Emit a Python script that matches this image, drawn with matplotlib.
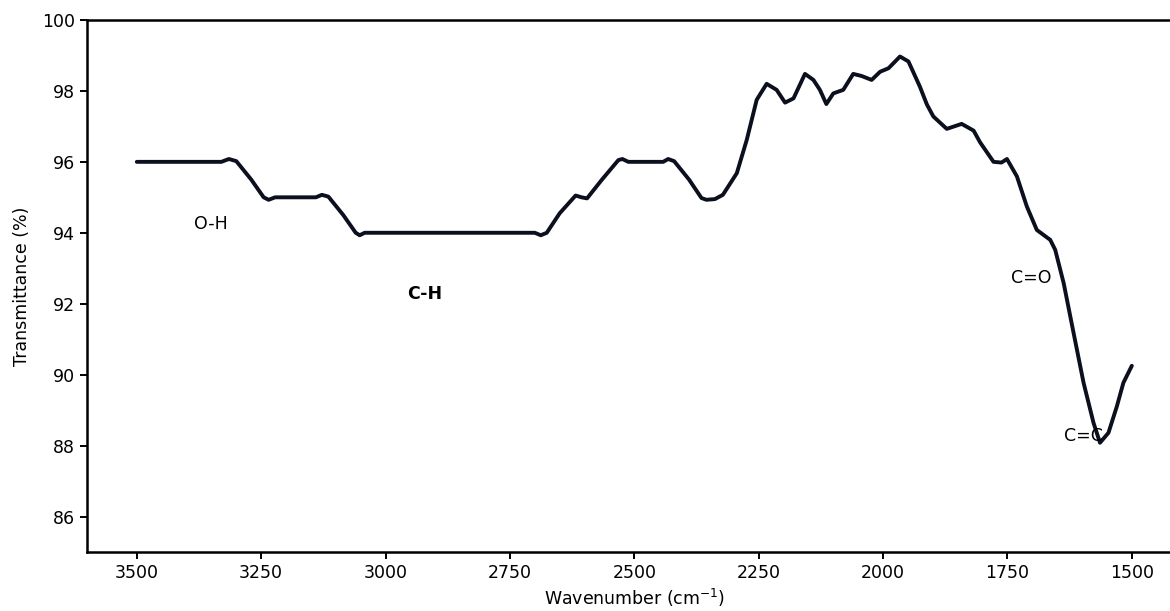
import matplotlib.pyplot as plt

# FTIR spectrum
wavenumber = [3500, 3330, 3315, 3300, 3270, 3245, 3235, 3222, 3140, 3128, 3115, 3085, 3060, 3052, 3042,
              2700, 2688, 2676, 2650, 2618, 2606, 2595, 2565, 2532, 2524, 2512, 2442, 2432, 2420, 2390,
              2365, 2355, 2338, 2322, 2294, 2274, 2254, 2234, 2214, 2197, 2180, 2157, 2140, 2127, 2114,
              2100, 2080, 2060, 2043, 2023, 2006, 1989, 1966, 1949, 1926, 1912, 1899, 1872, 1842, 1818, 1805,
              1778, 1762, 1751, 1731, 1711, 1691, 1664, 1654, 1637, 1617, 1597, 1577, 1564, 1547, 1530,
              1517, 1500]
transmittance = [96.0, 96.0, 96.08, 96.02, 95.5, 95.0, 94.93, 95.0, 95.0, 95.07, 95.02, 94.5, 94.0, 93.93, 94.0,
                 94.0, 93.93, 94.0, 94.55, 95.05, 95.0, 94.97, 95.5, 96.05, 96.08, 96.0, 96.0, 96.08, 96.02, 95.5,
                 94.98, 94.93, 94.95, 95.07, 95.68, 96.62, 97.75, 98.2, 98.03, 97.67, 97.79, 98.48, 98.31, 98.03, 97.63,
                 97.93, 98.03, 98.48, 98.42, 98.31, 98.54, 98.64, 98.97, 98.83, 98.12, 97.62, 97.28, 96.93, 97.07, 96.88, 96.55,
                 96.0, 95.98, 96.08, 95.59, 94.74, 94.08, 93.8, 93.52, 92.58, 91.17, 89.77, 88.64, 88.08, 88.36, 89.11,
                 89.77, 90.25]

# band labels and where they sit
band_names = ['O-H', 'C-H', 'C=O', 'C=C']
band_x = [3352, 2922, 1702, 1597]
band_y = [94.25, 92.28, 92.72, 88.26]
band_weight = ['normal', 'bold', 'normal', 'normal']

fig = plt.figure(figsize=(11.7, 6.11), dpi=100)
ax = fig.add_axes([0.0744, 0.0966, 0.9355, 0.8707])

ax.plot(wavenumber, transmittance, color='#0b0f1e', linewidth=2.8,
        solid_joinstyle='round', solid_capstyle='round')

for name, x, y, w in zip(band_names, band_x, band_y, band_weight):
    ax.text(x, y, name, ha='center', va='center', fontsize=12.5, fontweight=w)

ax.set_xlim(3600, 1400)
ax.set_ylim(85, 100)
ax.set_xticks([3500, 3250, 3000, 2750, 2500, 2250, 2000, 1750, 1500])
ax.set_yticks([86, 88, 90, 92, 94, 96, 98, 100])
ax.tick_params(labelsize=12.5, width=1.4, length=5)
for s in ax.spines.values():
    s.set_linewidth(1.8)

ax.set_xlabel('Wavenumber (cm$^{-1}$)', fontsize=12.5, labelpad=4)
ax.set_ylabel('Transmittance (%)', fontsize=12.5, labelpad=8)

fig.savefig('out.png', dpi=100)
